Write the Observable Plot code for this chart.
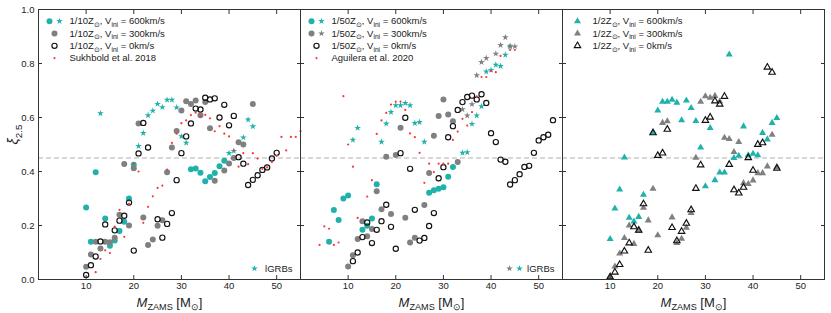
<!DOCTYPE html>
<html><head><meta charset="utf-8">
<script src="https://cdn.jsdelivr.net/npm/d3@7"></script>
<script src="https://cdn.jsdelivr.net/npm/@observablehq/plot@0.6"></script>
<style>body{margin:0;background:#fff;}</style>
</head><body><div id="chart"></div>
<script>
// ---------- tick labels / categories ----------
const panels = [1, 2, 3];
const tickValuesX = [10, 20, 30, 40, 50];
const tickValuesY = [0, 0.2, 0.4, 0.6, 0.8, 1.0];
const refLine = [0.45];

// ---------- Panel 1 : 1/10 Zsun ----------
const p1_v600_circle = [[10,.267],[11,.14],[12,.397],[14,.226],[15,.125],[16,.144],[17,.18],[18,.214],[19,.30],[20,.425],[32,.408],[33,.411],[34,.395],[35,.364],[36,.38],[37,.394],[38,.419],[39,.44]];
const p1_v600_star = [[13,.615],[21,.494],[22,.542],[23,.608],[24,.625],[25,.65],[26,.638],[27,.665],[28,.665],[29,.637],[30,.53],[31,.506],[40,.468],[41,.476],[43,.526],[44,.592],[45,.567]];
const p1_v300_circle = [[10,.047],[11,.093],[12,.14],[13,.115],[14,.14],[15,.138],[16,.155],[17,.24],[18,.428],[19,.20],[20,.412],[21,.578],[22,.23],[23,.128],[24,.148],[25,.199],[26,.219],[27,.397],[28,.489],[29,.55],[30,.626],[31,.66],[32,.65],[33,.663],[34,.608],[35,.657],[36,.56],[37,.366],[39,.404],[40,.43],[41,.45],[42,.508],[43,.50],[45,.65]];
const p1_v0_circle = [[10,.017],[11,.053],[12,.085],[13,.141],[14,.204],[16,.182],[17,.218],[18,.236],[19,.285],[20,.107],[21,.467],[22,.58],[23,.489],[25,.223],[26,.155],[27,.206],[28,.246],[29,.368],[30,.468],[31,.53],[32,.578],[33,.633],[34,.63],[35,.673],[36,.667],[37,.671],[38,.60],[39,.647],[40,.571],[41,.606],[42,.453],[43,.429],[44,.35],[45,.369],[46,.386],[47,.406],[48,.415],[49,.448],[50,.469]];
const p1_sukhbold = [[12,.027],[13,.076],[14,.108],[15,.098],[16,.196],[17,.258],[18,.158],[19,.28],[20,.43],[21,.40],[22,.21],[23,.269],[24,.308],[25,.339],[26,.348],[27,.407],[28,.506],[29,.54],[30,.579],[31,.589],[32,.609],[33,.618],[34,.605],[35,.61],[36,.597],[37,.549],[38,.568],[39,.54],[40,.53],[41,.478],[42,.418],[43,.468],[44,.427],[45,.468],[46,.448],[47,.41],[48,.415],[49,.435],[50,.458],[51,.528],[52,.478],[53,.528],[54,.528],[55,.549]];

// ---------- Panel 2 : 1/50 Zsun ----------
const p2_v600_circle = [[6,.14],[7,.257],[8,.22],[9,.30],[10,.311],[13,.184],[14,.199],[15,.226],[16,.353],[27,.321],[28,.331],[29,.336],[30,.342],[31,.381],[32,.417]];
const p2_v600_star = [[11,.517],[12,.561],[17,.51],[18,.577],[19,.62],[20,.645],[21,.645],[22,.653],[23,.645],[24,.579],[25,.583],[26,.51],[34,.469],[35,.471],[36,.576],[37,.607],[38,.641],[39,.77],[40,.776],[41,.795],[42,.79],[43,.832],[44,.861]];
const p2_v300_circle = [[10,.048],[11,.09],[12,.15],[13,.216],[14,.16],[15,.187],[16,.327],[17,.26],[18,.455],[19,.243],[20,.461],[21,.562],[22,.229],[23,.137],[24,.155],[26,.276],[27,.394],[28,.532],[29,.606],[30,.667],[31,.611],[32,.586],[33,.435]];
const p2_v300_star = [[34,.63],[35,.607],[36,.649],[37,.756],[38,.805],[39,.82],[41,.836],[42,.868],[43,.897],[44,.865],[45,.863]];
const p2_v0_circle = [[11,.068],[12,.10],[13,.157],[14,.211],[15,.135],[16,.184],[17,.216],[18,.277],[19,.195],[20,.114],[21,.468],[22,.599],[23,.41],[24,.258],[25,.144],[26,.154],[27,.198],[28,.246],[29,.375],[30,.416],[31,.527],[32,.568],[33,.628],[34,.657],[35,.676],[36,.681],[37,.667],[38,.686],[39,.654],[40,.542],[41,.509],[42,.444],[43,.436],[44,.352],[45,.368],[46,.39],[47,.417],[48,.421],[49,.469],[50,.515],[51,.527],[52,.536],[53,.59]];
const p2_aguilera = [[4,.128],[5,.197],[6,.188],[7,.128],[8,.137],[9,.679],[10,.50],[11,.418],[12,.228],[14,.307],[15,.368],[16,.539],[17,.589],[18,.617],[19,.648],[20,.659],[21,.659],[22,.628],[23,.541],[24,.527],[25,.469],[26,.358],[27,.429],[28,.398],[29,.429],[30,.429],[31,.429],[32,.517],[33,.548],[34,.595],[35,.57],[36,.62],[37,.678],[38,.75],[39,.75],[40,.772],[41,.768],[42,.828],[44,.85],[45,.85]];

// ---------- Panel 3 : 1/2 Zsun ----------
const p3_v600_tri = [[10,.15],[11,.263],[12,.333],[13,.452],[14,.229],[15,.215],[16,.232],[17,.314],[19,.544],[20,.626],[21,.658],[22,.658],[23,.666],[24,.655],[25,.59],[26,.663],[27,.635],[28,.587],[29,.489],[30,.345],[31,.561],[32,.368],[33,.396],[34,.396],[35,.833],[36,.45],[37,.458],[38,.567],[39,.46],[40,.466],[41,.46],[42,.543],[43,.519],[44,.58],[45,.598]];
const p3_v300_tri = [[10,.011],[11,.048],[12,.096],[13,.154],[14,.20],[15,.132],[16,.181],[17,.266],[18,.219],[19,.336],[20,.164],[21,.58],[22,.586],[23,.23],[24,.135],[25,.151],[26,.192],[27,.246],[28,.451],[29,.658],[30,.679],[31,.673],[32,.68],[33,.659],[34,.525],[35,.52],[36,.472],[37,.509],[38,.357],[39,.354],[40,.367],[41,.394],[42,.394],[43,.419],[44,.536],[45,.417]];
const p3_v0_tri = [[10,.009],[11,.027],[12,.055],[13,.105],[14,.135],[15,.195],[16,.182],[17,.28],[18,.108],[19,.543],[20,.459],[21,.468],[22,.556],[23,.192],[24,.143],[25,.178],[26,.208],[27,.258],[28,.337],[29,.424],[30,.589],[31,.601],[32,.661],[33,.649],[34,.678],[35,.426],[36,.332],[37,.32],[38,.341],[39,.451],[40,.404],[41,.5],[42,.506],[43,.786],[44,.767],[45,.412]];

// ---------- legend texts ----------
const legend1 = ["1/10Z_{⊙}, V_{ini} = 600km/s", "1/10Z_{⊙}, V_{ini} = 300km/s", "1/10Z_{⊙}, V_{ini} = 0km/s", "Sukhbold et al. 2018"];
const legend2 = ["1/50Z_{⊙}, V_{ini} = 600km/s", "1/50Z_{⊙}, V_{ini} = 300km/s", "1/50Z_{⊙}, V_{ini} = 0km/s", "Aguilera et al. 2020"];
const legend3 = ["1/2Z_{⊙}, V_{ini} = 600km/s", "1/2Z_{⊙}, V_{ini} = 300km/s", "1/2Z_{⊙}, V_{ini} = 0km/s"];
const grbLabel = "lGRBs";
const xLabel = "*{M}_{ZAMS} [M_{⊙}]";
const yLabel = "*{ξ}_{2.5}";

// ---------- styles ----------
const TEAL = "#20b2aa", GRAY = "#808080", RED = "#ff3434", INK = "#222", FRAME = "#333";
function styleFor(kind, sym) {
  const rFill = sym === "star" ? 2.1 : sym === "triangle" ? 2.6 : 3.0;
  if (kind === "teal") return {fill: TEAL, r: rFill};
  if (kind === "gray") return {fill: GRAY, r: rFill};
  if (kind === "open") return {fill: "none", stroke: "#111", strokeWidth: 1.15, r: sym === "triangle" ? 2.4 : 2.6};
  return {fill: RED, r: 1.1};
}

const series = [
  [1, p1_v600_circle, "circle", "teal"], [1, p1_v600_star, "star", "teal"],
  [1, p1_v300_circle, "circle", "gray"], [1, p1_v0_circle, "circle", "open"], [1, p1_sukhbold, "circle", "red"],
  [2, p2_v600_circle, "circle", "teal"], [2, p2_v600_star, "star", "teal"],
  [2, p2_v300_circle, "circle", "gray"], [2, p2_v300_star, "star", "gray"],
  [2, p2_v0_circle, "circle", "open"], [2, p2_aguilera, "circle", "red"],
  [3, p3_v600_tri, "triangle", "teal"], [3, p3_v300_tri, "triangle", "gray"], [3, p3_v0_tri, "triangle", "open"]
];

const marks = [];
marks.push(Plot.ruleY(refLine, {stroke: "#b0b0b0", strokeWidth: 1.2, strokeDasharray: "5,3"}));

for (const [panel, data, sym, kind] of series) {
  const rows = data.map(([m, xi]) => ({panel, m, xi}));
  marks.push(Plot.dot(rows, {x: "m", y: "xi", fx: "panel", symbol: sym, ...styleFor(kind, sym)}));
}

// legends (inside each panel, top-left)
const legendSpec = [
  {panel: 1, labels: legend1, rows: [[["circle","teal"],["star","teal"]], [["circle","gray"]], [["circle","open"]], [["circle","red"]]], textDx: 31},
  {panel: 2, labels: legend2, rows: [[["circle","teal"],["star","teal"]], [["circle","gray"],["star","gray"]], [["circle","open"]], [["circle","red"]]], textDx: 31},
  {panel: 3, labels: legend3, rows: [[["triangle","teal"]], [["triangle","gray"]], [["triangle","open"]]], textDx: 30, single: 15}
];
for (const spec of legendSpec) {
  spec.rows.forEach((syms, i) => {
    const dy = 11.7 + 12.3 * i;
    const offs = syms.length === 2 ? [11, 21] : [spec.single ?? 16];
    syms.forEach(([sym, kind], j) => {
      marks.push(Plot.dot([{panel: spec.panel}], {fx: "panel", frameAnchor: "top-left", dx: offs[j], dy, symbol: sym, ...styleFor(kind, sym)}));
    });
    marks.push(Plot.text([{panel: spec.panel, label: spec.labels[i]}], {fx: "panel", text: "label", frameAnchor: "top-left", dx: spec.textDx, dy, textAnchor: "start", lineAnchor: "middle", fontSize: 9.5, fill: INK}));
  });
}
// lGRB legends bottom-right
const grbSpec = [
  {panel: 1, syms: [["star","teal"]], offs: [-46]},
  {panel: 2, syms: [["star","gray"],["star","teal"]], offs: [-53, -43]}
];
for (const g of grbSpec) {
  g.syms.forEach(([sym, kind], j) => {
    marks.push(Plot.dot([{panel: g.panel}], {fx: "panel", frameAnchor: "bottom-right", dx: g.offs[j], dy: -11, symbol: sym, ...styleFor(kind, sym)}));
  });
  marks.push(Plot.text([{panel: g.panel, label: grbLabel}], {fx: "panel", text: "label", frameAnchor: "bottom-right", dx: -8, dy: -11, textAnchor: "end", lineAnchor: "middle", fontSize: 9.5, fill: INK}));
}

// axes (ticks pointing inward)
marks.push(Plot.axisX(tickValuesX, {anchor: "bottom", tickSize: -4, tickPadding: 7, stroke: FRAME, fill: INK, fontSize: 9.5, label: null, tickFormat: d => String(d)}));
marks.push(Plot.axisX(tickValuesX, {anchor: "top", tickSize: -4, stroke: FRAME, fill: "none", label: null}));
marks.push(Plot.axisY(tickValuesY, {anchor: "left", tickSize: -4, tickPadding: 8, stroke: FRAME, fill: INK, fontSize: 9.5, label: null, tickFormat: d3.format(".1f")}));
marks.push(Plot.axisY(tickValuesY, {anchor: "left", tickSize: -4, stroke: FRAME, fill: "none", label: null, facetAnchor: null}));
marks.push(Plot.axisY(tickValuesY, {anchor: "right", tickSize: -4, stroke: FRAME, fill: "none", label: null, facetAnchor: null}));

// axis titles
marks.push(Plot.text(panels, {fx: d => d, text: () => xLabel, frameAnchor: "bottom", dy: 23, lineAnchor: "middle", fontSize: 13, fill: INK}));
marks.push(Plot.text([1], {fx: d => d, text: () => yLabel, frameAnchor: "left", dx: -25, rotate: -90, lineAnchor: "middle", fontSize: 14, fill: INK}));

marks.push(Plot.frame({stroke: FRAME, strokeWidth: 1}));

const chart = Plot.plot({
  width: 831, height: 313,
  marginLeft: 37, marginRight: 6, marginTop: 9, marginBottom: 34,
  fx: {domain: panels, padding: 0, axis: null, label: null},
  x: {domain: [0, 55]},
  y: {domain: [0, 1]},
  style: {fontFamily: "'Liberation Sans', Arial, sans-serif", background: "#fff", color: INK},
  marks
});
document.getElementById("chart").appendChild(chart);

// rich text: _{..} subscript, *{..} italic
d3.select(chart).selectAll("text").each(function () {
  const el = this, s = el.textContent;
  if (!/[_*]\{/.test(s)) return;
  const fs = parseFloat(getComputedStyle(el).fontSize) || 10;
  const tokens = s.split(/(_\{[^}]*\}|\*\{[^}]*\})/);
  el.textContent = "";
  let shift = 0;
  for (const t of tokens) {
    if (!t) continue;
    const ts = document.createElementNS("http://www.w3.org/2000/svg", "tspan");
    let target = 0;
    if (t.startsWith("_{")) { ts.textContent = t.slice(2, -1); ts.setAttribute("font-size", (fs * 0.7).toFixed(2)); target = fs * 0.28; }
    else if (t.startsWith("*{")) { ts.textContent = t.slice(2, -1); ts.setAttribute("font-style", "italic"); }
    else ts.textContent = t;
    if (target !== shift) { ts.setAttribute("dy", (target - shift).toFixed(2)); shift = target; }
    el.appendChild(ts);
  }
});
</script>
</body></html>
